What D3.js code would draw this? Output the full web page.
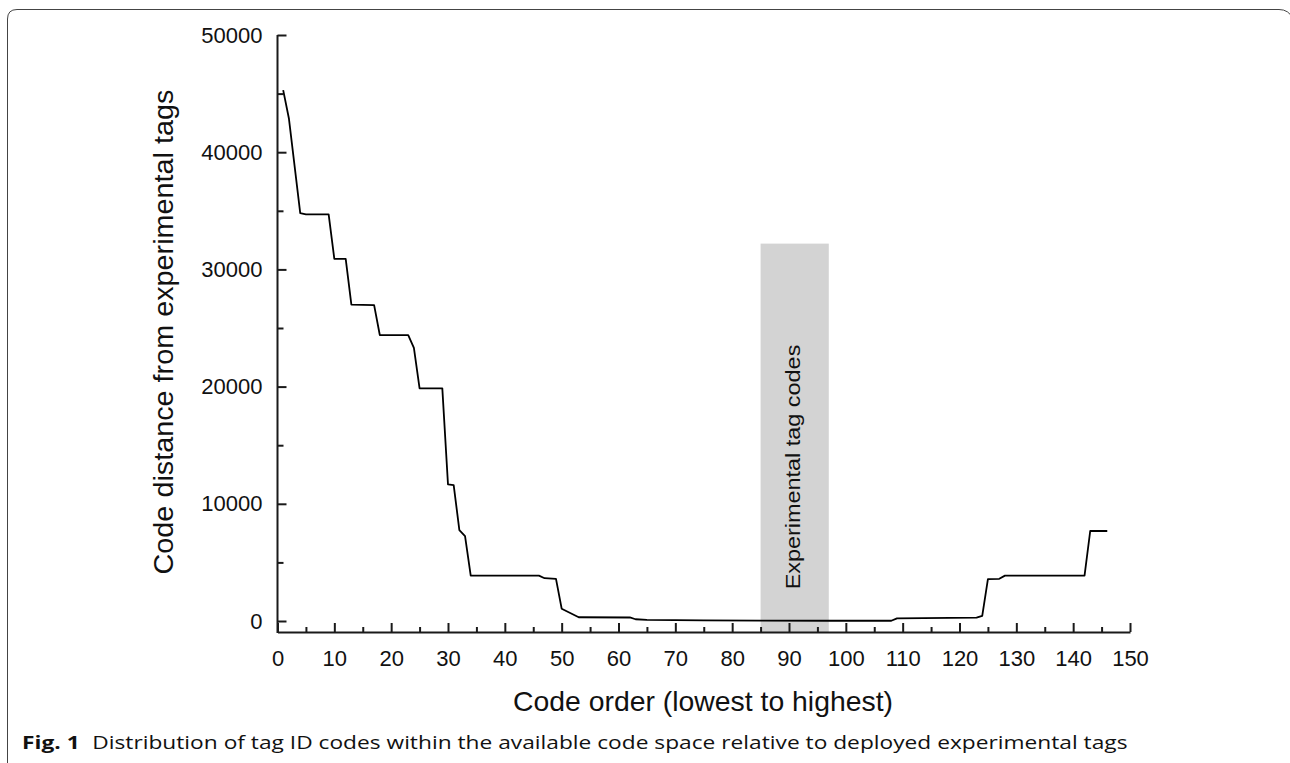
<!DOCTYPE html>
<head>
  <meta charset="utf-8">
  <title>Tag code distance</title>
  <script src="https://d3js.org/d3.v7.min.js"></script>
  <style>
    body { margin: 0; background: #fff; }
    svg { display: block; }
  </style>
</head>
<body>
<script>
  var WIDTH = 1290, HEIGHT = 763;

  // code order (x) and code distance (y) at each vertex
  var codeOrder = [1, 2, 4, 5, 9, 10, 12, 13, 17, 18, 23, 24, 25, 29, 30, 31, 32, 33, 34,
                   46, 47, 49, 50, 53, 62, 63, 65, 75, 85, 97, 108, 109, 123, 124, 125,
                   127, 128, 142, 143, 146];
  var distance = [45300, 42900, 34800, 34700, 34700, 30900, 30900, 27000, 26950, 24400,
                  24400, 23300, 19850, 19850, 11650, 11600, 7750, 7250, 3870,
                  3870, 3650, 3600, 1050, 320, 300, 150, 90, 60, 30, 20, 20, 230, 280, 430, 3580,
                  3600, 3870, 3870, 7680, 7680];

  // shaded band of experimental tag codes
  var bandRange = [85, 97];
  var bandTop = 32200;
  var bandLabel = "Experimental tag codes";

  var xTicks = d3.range(0, 151, 10);
  var yTicks = d3.range(0, 50001, 10000);

  var FONT = "Liberation Sans, Arial, sans-serif";

  var svg = d3.select("body").append("svg")
      .attr("width", WIDTH)
      .attr("height", HEIGHT);

  // stretch a text along its own direction so it spans the given length
  function fit(sel, pre, len) {
    var w = sel.node().getComputedTextLength();
    sel.attr("transform", pre + " scale(" + (len / w) + ",1)");
  }

  // frame round the figure
  svg.append("path")
      .attr("d", "M7.5,775 L7.5,19 Q7.5,9.5 17,9.5 L1279,9.5 Q1289,9.5 1293,19")
      .attr("fill", "none")
      .attr("stroke", "#444")
      .attr("stroke-width", 1);

  var x = d3.scaleLinear().domain([0, 150]).range([277.5, 1130]);
  var y = d3.scaleLinear().domain([0, 50000]).range([621, 35]);
  var axisY = 632;

  // band
  svg.append("rect")
      .attr("x", x(bandRange[0]))
      .attr("y", y(bandTop))
      .attr("width", x(bandRange[1]) - x(bandRange[0]))
      .attr("height", axisY - y(bandTop))
      .attr("fill", "#d3d3d3");

  var bl = svg.append("text")
      .attr("text-anchor", "middle")
      .attr("font-family", FONT)
      .attr("font-size", 20)
      .attr("fill", "#111")
      .text(bandLabel);
  fit(bl, "translate(800,467) rotate(-90)", 245);

  // x axis: minor ticks then labelled major ticks
  var gxMinor = svg.append("g")
      .attr("transform", "translate(0," + axisY + ")")
      .call(d3.axisBottom(x).tickValues(d3.range(5, 150, 10)).tickSize(-5).tickSizeOuter(0).tickFormat(""));
  gxMinor.select(".domain").remove();

  var gx = svg.append("g")
      .attr("transform", "translate(0," + axisY + ")")
      .call(d3.axisBottom(x).tickValues(xTicks).tickSize(-9).tickSizeOuter(0).tickPadding(18));

  // y axis
  var gyMinor = svg.append("g")
      .attr("transform", "translate(" + x(0) + ",0)")
      .call(d3.axisLeft(y).tickValues(d3.range(5000, 50000, 10000)).tickSize(-6).tickFormat(""));
  gyMinor.select(".domain").remove();

  var gy = svg.append("g")
      .attr("transform", "translate(" + x(0) + ",0)")
      .call(d3.axisLeft(y).tickValues(yTicks).tickSize(-9).tickPadding(15).tickFormat(d3.format("d")));
  gy.select(".domain").remove();

  svg.append("line")
      .attr("x1", x(0)).attr("x2", x(0))
      .attr("y1", y(50000)).attr("y2", axisY + 1)
      .attr("stroke", "#1a1a1a")
      .attr("stroke-width", 2);

  svg.selectAll(".tick line, .domain")
      .attr("stroke", "#1a1a1a")
      .attr("stroke-width", 2);
  svg.selectAll(".tick text")
      .attr("font-family", FONT)
      .attr("font-size", 22)
      .attr("fill", "#111");

  // data line
  var pts = codeOrder.map(function(d, i) { return [d, distance[i]]; });
  svg.append("path")
      .datum(pts)
      .attr("fill", "none")
      .attr("stroke", "#000")
      .attr("stroke-width", 1.8)
      .attr("stroke-linejoin", "round")
      .attr("d", d3.line()
        .x(function(d) { return x(d[0]); })
        .y(function(d) { return y(d[1]); }));

  // axis titles
  var xt = svg.append("text")
      .attr("text-anchor", "middle")
      .attr("font-family", FONT)
      .attr("font-size", 27)
      .attr("fill", "#111")
      .text("Code order (lowest to highest)");
  fit(xt, "translate(703,711)", 380);

  var yt = svg.append("text")
      .attr("text-anchor", "middle")
      .attr("font-family", FONT)
      .attr("font-size", 27)
      .attr("fill", "#111")
      .text("Code distance from experimental tags");
  fit(yt, "translate(173,332) rotate(-90)", 485);

  // caption
  var cap = svg.append("text")
      .attr("font-family", "Open Sans, Noto Sans, sans-serif")
      .attr("font-size", 18)
      .attr("fill", "#111");
  cap.append("tspan").attr("font-weight", "bold").text("Fig. 1");
  cap.append("tspan").attr("dx", 10).text("Distribution of tag ID codes within the available code space relative to deployed experimental tags");
  fit(cap, "translate(22,749)", 1093);
</script>
</body>
</html>
